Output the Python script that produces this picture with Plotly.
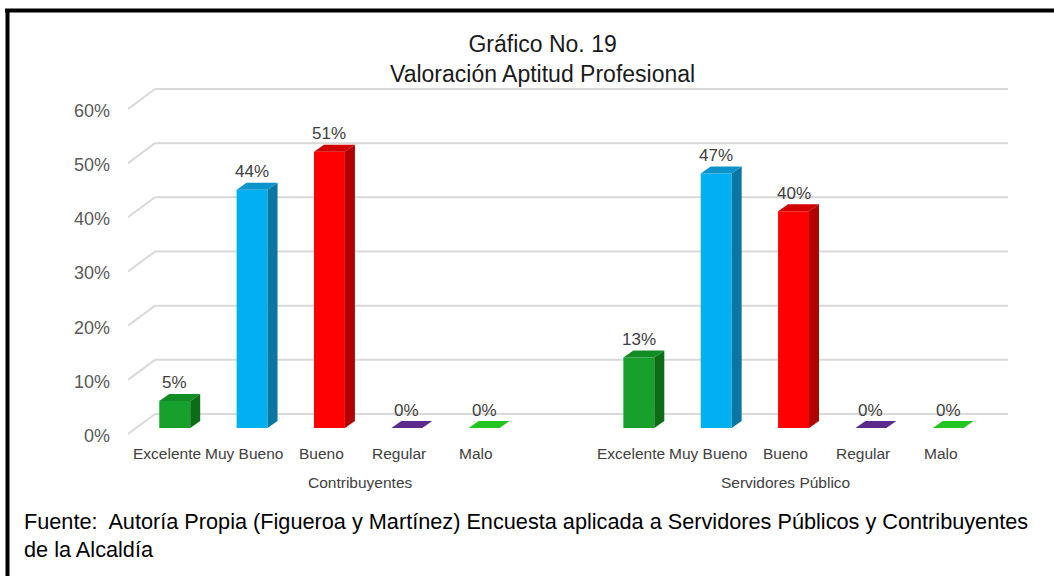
import plotly.graph_objects as go

# ---- data -------------------------------------------------------------
groups = ["Contribuyentes", "Servidores Público"]
categories = ["Excelente", "Muy Bueno", "Bueno", "Regular", "Malo"]
contribuyentes = [5, 44, 51, 0, 0]
servidores = [13, 47, 40, 0, 0]
y_ticks = [0, 10, 20, 30, 40, 50, 60]

title_text = "Gráfico No. 19<br>Valoración Aptitud Profesional"
source_text = ("Fuente:&nbsp; Autoría Propia (Figueroa y Martínez) Encuesta aplicada a "
               "Servidores Públicos y Contribuyentes<br>de la Alcaldía")

# ---- styling ----------------------------------------------------------
front_colors = ["#17a02b", "#00b0f0", "#ff0000", "#7030a0", "#00cc00"]
side_colors = ["#0c6c18", "#0a76a3", "#b00000", "#4a1f6e", "#009900"]
top_colors = ["#128c24", "#0b93cc", "#d00000", "#5b2a8a", "#22c422"]
FONT = "Liberation Sans, Arial, sans-serif"
GRID = "#d9d9d9"

# ---- geometry (pixel frame of the page) -------------------------------
W, H = 1054, 576
ML, MR, MT, MB = 128, 46, 80, 136
X0_PX, UNIT_PX = 167.0, 77.35      # pixel of slot 0 and pixels per slot
Y0_PX, PCT_PX = 428.0, 5.417       # pixel of 0 % and pixels per percent


def ux(px):
    return (px - X0_PX) / UNIT_PX


def uy(py):
    return (Y0_PX - py) / PCT_PX


def paper_x(px):
    return (px - ML) / (W - ML - MR)


def paper_y(py):
    return (H - MB - py) / (H - MT - MB)


x_range = [ux(ML), ux(W - MR)]
y_range = [uy(H - MB), uy(MT)]

BAR_W = 0.40                 # front face width in slots
BAR_SHIFT = 0.10             # bars sit a little behind/right of the label slot
DX = 10 / UNIT_PX            # bar depth, horizontal
DY = 7 / PCT_PX              # bar depth, vertical
WALL_FRONT_X, WALL_BACK_X = ux(128), ux(155)
FLOOR_FRONT, FLOOR_BACK = uy(434), uy(414)

series = [contribuyentes, servidores]
slots = [[g * (len(categories) + 1) + i for i in range(len(categories))]
         for g in range(len(groups))]

fig = go.Figure()

# perspective gridlines, kept beneath the bars:
# a short diagonal on the side wall plus the line on the back wall
for t in y_ticks:
    fig.add_shape(type="line", xref="x", yref="y", layer="below",
                  x0=WALL_FRONT_X, y0=t + FLOOR_FRONT,
                  x1=WALL_BACK_X, y1=t + FLOOR_BACK,
                  line=dict(color=GRID, width=2))
    fig.add_shape(type="line", xref="x", yref="y", layer="below",
                  x0=WALL_BACK_X, y0=t + FLOOR_BACK,
                  x1=x_range[1], y1=t + FLOOR_BACK,
                  line=dict(color=GRID, width=2))

# 3-D looking bars: front face (bar), right side face and top face
for g, values in enumerate(series):
    xs = [s + BAR_SHIFT for s in slots[g]]
    fig.add_trace(go.Bar(x=xs, y=values, width=BAR_W,
                         marker=dict(color=front_colors, line=dict(width=0)),
                         hoverinfo="skip", showlegend=False))
    for i, v in enumerate(values):
        xl = xs[i] - BAR_W / 2
        xr = xs[i] + BAR_W / 2
        if v > 0:
            fig.add_trace(go.Scatter(
                x=[xr, xr + DX, xr + DX, xr, xr],
                y=[0, DY, v + DY, v, 0],
                mode="lines", fill="toself", fillcolor=side_colors[i],
                line=dict(width=0), hoverinfo="skip", showlegend=False))
        fig.add_trace(go.Scatter(
            x=[xl, xr, xr + DX, xl + DX, xl],
            y=[v, v, v + DY, v + DY, v],
            mode="lines", fill="toself", fillcolor=top_colors[i],
            line=dict(width=0), hoverinfo="skip", showlegend=False))
        fig.add_annotation(x=xs[i], y=v + DY, text=f"{v}%", showarrow=False,
                           xanchor="center", yanchor="middle", yshift=11,
                           font=dict(family=FONT, size=17, color="#404040"))

annotations = []
# value axis labels
for t in y_ticks:
    annotations.append(dict(xref="paper", yref="y", x=paper_x(112), y=t + uy(436),
                            text=f"{t}%", showarrow=False, xanchor="right",
                            yanchor="middle",
                            font=dict(family=FONT, size=18, color="#595959")))
# category and group labels
for g, name in enumerate(groups):
    for i, cat in enumerate(categories):
        annotations.append(dict(xref="x", yref="paper", x=slots[g][i],
                                y=paper_y(453), text=cat, showarrow=False,
                                xanchor="center", yanchor="middle",
                                font=dict(family=FONT, size=15.5, color="#404040")))
    last = slots[g][-1] + (1 if g < len(groups) - 1 else 0)
    annotations.append(dict(xref="x", yref="paper", x=(slots[g][0] + last) / 2,
                            y=paper_y(482), text=name, showarrow=False,
                            xanchor="center", yanchor="middle",
                            font=dict(family=FONT, size=15.5, color="#404040")))
# title and source note
annotations.append(dict(xref="paper", yref="paper", x=paper_x(542), y=paper_y(59),
                        text=title_text, showarrow=False, xanchor="center",
                        yanchor="middle",
                        font=dict(family=FONT, size=23, color="#1a1a1a")))
annotations.append(dict(xref="paper", yref="paper", x=paper_x(22), y=paper_y(535),
                        text=source_text, showarrow=False, xanchor="left",
                        yanchor="middle", align="left",
                        font=dict(family=FONT, size=21.7, color="#000000")))
for a in annotations:
    fig.add_annotation(**a)

# outer frame (top and left edges)
fig.add_shape(type="line", xref="paper", yref="paper",
              x0=paper_x(5), x1=paper_x(W), y0=paper_y(10.5), y1=paper_y(10.5),
              line=dict(color="#000000", width=4))
fig.add_shape(type="line", xref="paper", yref="paper",
              x0=paper_x(7.5), x1=paper_x(7.5), y0=paper_y(9), y1=paper_y(H),
              line=dict(color="#000000", width=4))

fig.update_layout(
    width=W, height=H,
    margin=dict(l=ML, r=MR, t=MT, b=MB, pad=0),
    paper_bgcolor="#ffffff", plot_bgcolor="#ffffff",
    barmode="overlay", showlegend=False,
    xaxis=dict(range=x_range, visible=False, fixedrange=True),
    yaxis=dict(range=y_range, visible=False, fixedrange=True),
)

fig.write_html("out.html")
